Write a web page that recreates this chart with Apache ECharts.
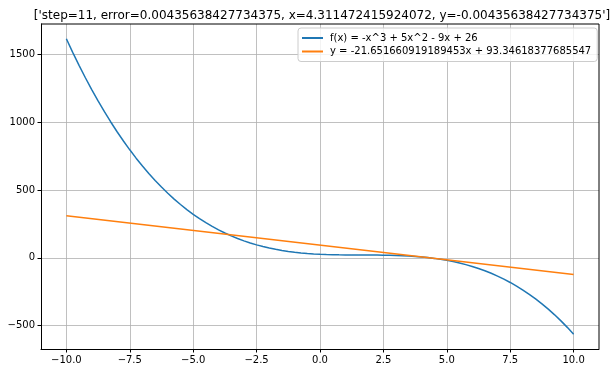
<!DOCTYPE html>
<html>
<head>
<meta charset="utf-8">
<script src="https://cdn.jsdelivr.net/npm/echarts@6/dist/echarts.min.js"></script>
<style>html,body{margin:0;padding:0;background:#fff;}#c{width:614px;height:373px;}</style>
</head>
<body>
<div id="c"></div>
<script>
const titleText = "['step=11, error=0.00435638427734375, x=4.311472415924072, y=-0.00435638427734375']";
const curveName = "f(x) = -x^3 + 5x^2 - 9x + 26";
const lineName = "y = -21.651660919189453x + 93.34618377685547";
const curveX = [-10,-9.75,-9.5,-9.25,-9,-8.75,-8.5,-8.25,-8,-7.75,-7.5,-7.25,-7,-6.75,-6.5,-6.25,-6,-5.75,-5.5,-5.25,-5,-4.75,-4.5,-4.25,-4,-3.75,-3.5,-3.25,-3,-2.75,-2.5,-2.25,-2,-1.75,-1.5,-1.25,-1,-0.75,-0.5,-0.25,0,0.25,0.5,0.75,1,1.25,1.5,1.75,2,2.25,2.5,2.75,3,3.25,3.5,3.75,4,4.25,4.5,4.75,5,5.25,5.5,5.75,6,6.25,6.5,6.75,7,7.25,7.5,7.75,8,8.25,8.5,8.75,9,9.25,9.5,9.75,10];
const curveY = [1616,1515.92,1420.13,1328.52,1241,1157.48,1077.88,1002.08,930,861.55,796.63,735.14,677,622.11,570.38,521.70,476,433.17,393.13,355.77,321,288.73,258.88,231.33,206,182.80,161.63,142.39,125,109.36,95.38,82.95,72,62.42,54.13,47.02,41,35.98,31.88,28.58,26,24.05,22.63,21.64,21,20.61,20.38,20.20,20,19.67,19.13,18.27,17,15.23,12.88,9.83,6,1.30,-4.38,-11.11,-19,-28.14,-38.63,-50.55,-64,-79.08,-95.88,-114.48,-135,-157.52,-182.13,-208.92,-238,-269.45,-303.38,-339.86,-379,-420.89,-465.63,-513.30,-564];
const lineX = [-10, 10];
const lineY = [309.86, -123.17];
const xTicks = [-10, -7.5, -5, -2.5, 0, 2.5, 5, 7.5, 10];
const yTicks = [-500, 0, 500, 1000, 1500];

const fmtX = v => (v < 0 ? '\u2212' : '') + Math.abs(v).toFixed(1);
const fmtY = v => (v < 0 ? '\u2212' : '') + Math.abs(v);

const chart = echarts.init(document.getElementById('c'), null, {renderer: 'canvas'});
const font = 'DejaVu Sans';
chart.setOption({
  animation: false,
  backgroundColor: '#fff',
  textStyle: {fontFamily: font},
  title: {
    text: titleText,
    left: 317, top: 5, textAlign: 'center',
    textStyle: {fontFamily: font, fontSize: 12, fontWeight: 'normal', color: '#000'}
  },
  legend: {
    orient: 'vertical',
    left: 298, top: 28,
    padding: [4, 6, 4, 4],
    backgroundColor: 'rgba(255,255,255,0.8)',
    borderColor: '#cccccc', borderWidth: 1, borderRadius: 3,
    itemWidth: 21, itemHeight: 2, itemGap: 1.5,
    icon: 'rect',
    textStyle: {fontFamily: font, fontSize: 10, color: '#000', lineHeight: 12, padding: [0,0,0,2]},
    data: [curveName, lineName]
  },
  grid: {left: 41, right: 15, top: 24, bottom: 24, containLabel: false},
  xAxis: {
    type: 'value', min: -11, max: 11,
    axisLine: {show: true, onZero: false, lineStyle: {color: '#000', width: 1}},
    axisTick: {show: true, length: 3.5, customValues: xTicks, lineStyle: {color: '#000'}},
    axisLabel: {customValues: xTicks, formatter: fmtX, margin: 6, color: '#000', fontFamily: font, fontSize: 10},
    splitLine: {show: true, lineStyle: {color: '#b0b0b0', width: 0.8}}
  },
  yAxis: {
    type: 'value', min: -673, max: 1725,
    axisLine: {show: true, onZero: false, lineStyle: {color: '#000', width: 1}},
    axisTick: {show: true, length: 3.5, customValues: yTicks, lineStyle: {color: '#000'}},
    axisLabel: {customValues: yTicks, formatter: fmtY, margin: 6, color: '#000', fontFamily: font, fontSize: 10},
    splitLine: {show: true, lineStyle: {color: '#b0b0b0', width: 0.8}}
  },
  graphic: [],
  series: [
    {name: curveName, type: 'line', showSymbol: false, symbol: 'none', color: '#1f77b4',
     lineStyle: {width: 1.5, color: '#1f77b4'},
     data: curveX.map((x, i) => [x, curveY[i]])},
    {name: lineName, type: 'line', showSymbol: false, symbol: 'none', color: '#ff7f0e',
     lineStyle: {width: 1.5, color: '#ff7f0e'},
     data: lineX.map((x, i) => [x, lineY[i]])}
  ]
});
const g = chart.getModel().getComponent('grid').coordinateSystem.getRect();
chart.setOption({graphic: [
  {type: 'line', shape: {x1: g.x, y1: g.y, x2: g.x + g.width, y2: g.y}, style: {stroke: '#000', lineWidth: 1}, z: 10},
  {type: 'line', shape: {x1: g.x + g.width, y1: g.y, x2: g.x + g.width, y2: g.y + g.height}, style: {stroke: '#000', lineWidth: 1}, z: 10}
]});
</script>
</body>
</html>
